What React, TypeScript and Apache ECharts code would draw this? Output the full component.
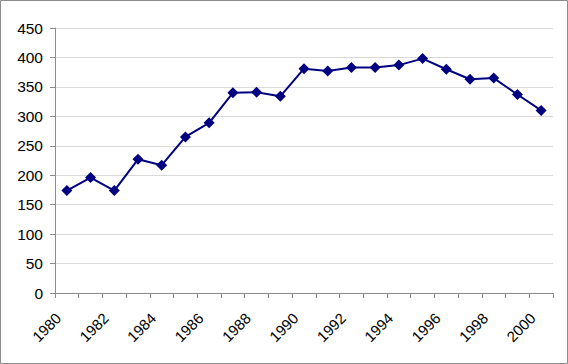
import React, { useEffect, useRef } from "react";
import * as echarts from "echarts";

const years = [
  "1980", "1981", "1982", "1983", "1984", "1985", "1986", "1987", "1988", "1989", "1990",
  "1991", "1992", "1993", "1994", "1995", "1996", "1997", "1998", "1999", "2000",
];
const values = [174, 196, 174, 227, 217, 265, 289, 340, 341, 334, 381, 377, 383, 383, 387, 398, 380, 363, 365, 337, 310];

export default function App() {
  const ref = useRef<HTMLDivElement>(null);
  useEffect(() => {
    const chart = echarts.init(ref.current!, undefined, { renderer: "svg" });
    chart.setOption({
      animation: false,
      backgroundColor: "#fff",
      graphic: [
        {
          type: "rect",
          shape: { x: 0.5, y: 0.5, width: 567, height: 363 },
          style: { fill: "none", stroke: "#8c8c8c", lineWidth: 1 },
          silent: true,
        },
      ],
      grid: { left: 55, right: 15, top: 28, bottom: 71 },
      xAxis: {
        type: "category",
        data: years,
        boundaryGap: true,
        axisLine: { lineStyle: { color: "#8c8c8c", width: 1 } },
        axisTick: { show: true, interval: 0, length: 5, lineStyle: { color: "#8c8c8c" } },
        axisLabel: {
          interval: 1,
          rotate: 45,
          margin: 14,
          padding: [0, 12, 0, 0],
          color: "#000",
          fontFamily: "Liberation Sans, Arial, sans-serif",
          fontSize: 15,
        },
        splitLine: { show: false },
      },
      yAxis: {
        type: "value",
        min: 0,
        max: 450,
        interval: 50,
        axisLine: { show: true, lineStyle: { color: "#8c8c8c", width: 1 } },
        axisTick: { show: true, length: 5, lineStyle: { color: "#8c8c8c" } },
        axisLabel: {
          margin: 12,
          color: "#000",
          fontFamily: "Liberation Sans, Arial, sans-serif",
          fontSize: 15.5,
        },
        splitLine: { show: true, lineStyle: { color: "#d9d9d9", width: 1 } },
      },
      series: [
        {
          type: "line",
          data: values,
          symbol: "diamond",
          symbolSize: 11,
          lineStyle: { color: "#000080", width: 2 },
          itemStyle: { color: "#000080" },
        },
      ],
    });
    return () => chart.dispose();
  }, []);
  return (
    <div
      ref={ref}
      style={{ position: "fixed", left: 0, top: 0, width: 568, height: 364 }}
    />
  );
}
